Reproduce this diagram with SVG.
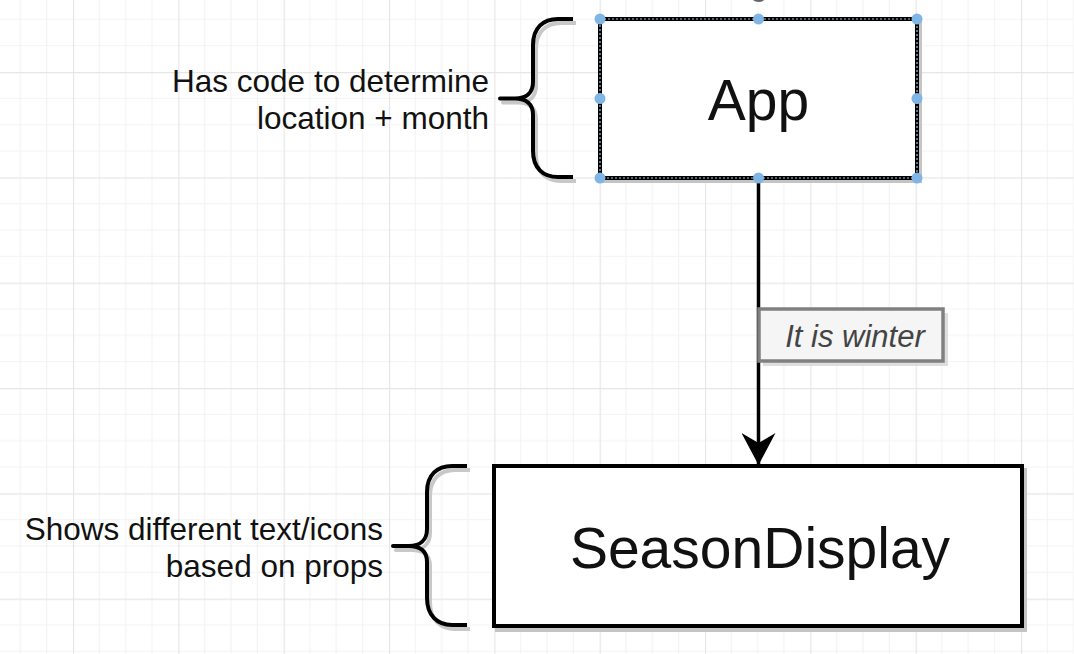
<svg xmlns="http://www.w3.org/2000/svg" width="1074" height="654" viewBox="0 0 1074 654">
<style>
.txt{font-family:"Liberation Sans",Arial,Helvetica,sans-serif;fill:#111}
.side{font-size:31.5px;text-anchor:end}
.big{font-size:57px;text-anchor:middle}
.lbl{font-size:31px;font-style:italic;fill:#444;text-anchor:middle}
.box{fill:#fff;stroke:#000;stroke-width:4}
.shadow{fill:none;stroke:#c4c4c4;stroke-width:4}
.brace{fill:none;stroke:#000;stroke-width:4;stroke-linejoin:round}
.braceSh{fill:none;stroke:#c8c8c8;stroke-width:4;stroke-linejoin:round}
.handle{fill:#7fb6e6}
</style>
<defs>
<pattern id="grid" patternUnits="userSpaceOnUse" x="73" y="72" width="105.33" height="105.33">
<path d="M26.33,0V105.33M52.67,0V105.33M79,0V105.33M0,26.33H105.33M0,52.67H105.33M0,79H105.33" stroke="#f3f3f3" stroke-width="1.2" fill="none"/>
<path d="M0.5,0V105.33M0,0.5H105.33" stroke="#e6e6e6" stroke-width="1.3" fill="none"/>
</pattern>
<marker id="arrow" markerUnits="userSpaceOnUse" markerWidth="32" markerHeight="34" viewBox="0 0 32 34" refX="32" refY="17" orient="auto">
<path d="M0,0 L32,17 L0,34 L10,17 Z" fill="#000"/>
</marker>
</defs>
<rect width="1074" height="654" fill="#fff"/>
<rect width="1074" height="654" fill="url(#grid)"/>

<g id="connectors">
<path d="M758.5,180 V465" stroke="#000" stroke-width="3.5" fill="none" marker-end="url(#arrow)"/>
</g>

<g id="edge-label">
<rect x="763" y="313" width="185" height="53" fill="#d6d6d6" stroke="none" opacity="0.8"/>
<rect x="759" y="309" width="184" height="52" fill="#f5f5f5" stroke="#808080" stroke-width="3.5"/>
<text class="txt lbl" x="855" y="347">It is winter</text>
</g>

<g id="app">
<circle cx="758.5" cy="-7" r="9" fill="#666"/>
<rect class="shadow" x="603" y="22" width="317" height="159"/>
<rect class="box" x="600" y="19" width="317" height="159"/>
<rect x="600" y="19" width="317" height="159" fill="none" stroke="#9cc3e6" stroke-width="1.2" stroke-dasharray="2 2"/>
<text class="txt big" x="758.5" y="120">App</text>
<circle class="handle" cx="600" cy="19" r="5.5"/>
<circle class="handle" cx="758.5" cy="19" r="5.5"/>
<circle class="handle" cx="917" cy="19" r="5.5"/>
<circle class="handle" cx="600" cy="98.5" r="5.5"/>
<circle class="handle" cx="917" cy="98.5" r="5.5"/>
<circle class="handle" cx="600" cy="178" r="5.5"/>
<circle class="handle" cx="758.5" cy="178" r="5.5"/>
<circle class="handle" cx="917" cy="178" r="5.5"/>
</g>

<g id="app-note">
<path class="braceSh" transform="translate(3,4)" d="M573,19 H558 C543,19 533,28 533,45 V82 C533,93 526,98.5 515,98.5 H500 H515 C526,98.5 533,104 533,115 V151 C533,168 543,177 558,177 H573"/>
<path class="brace" d="M573,19 H558 C543,19 533,28 533,45 V82 C533,93 526,98.5 515,98.5 H500 H515 C526,98.5 533,104 533,115 V151 C533,168 543,177 558,177 H573"/>
<text class="txt side" x="489" y="92">Has code to determine</text>
<text class="txt side" x="489" y="129">location + month</text>
</g>

<g id="seasondisplay">
<rect class="shadow" x="497" y="470" width="528" height="160"/>
<rect class="box" x="494" y="466" width="528" height="160"/>
<text class="txt big" x="760" y="568">SeasonDisplay</text>
</g>

<g id="season-note">
<path class="braceSh" transform="translate(3,4)" d="M467,466 H452 C437,466 427,475 427,492 V529 C427,540 420,546 409,546 H393 H409 C420,546 427,551 427,562 V598 C427,615 437,625 452,625 H467"/>
<path class="brace" d="M467,466 H452 C437,466 427,475 427,492 V529 C427,540 420,546 409,546 H393 H409 C420,546 427,551 427,562 V598 C427,615 437,625 452,625 H467"/>
<text class="txt side" x="383" y="540">Shows different text/icons</text>
<text class="txt side" x="383" y="577">based on props</text>
</g>
</svg>
